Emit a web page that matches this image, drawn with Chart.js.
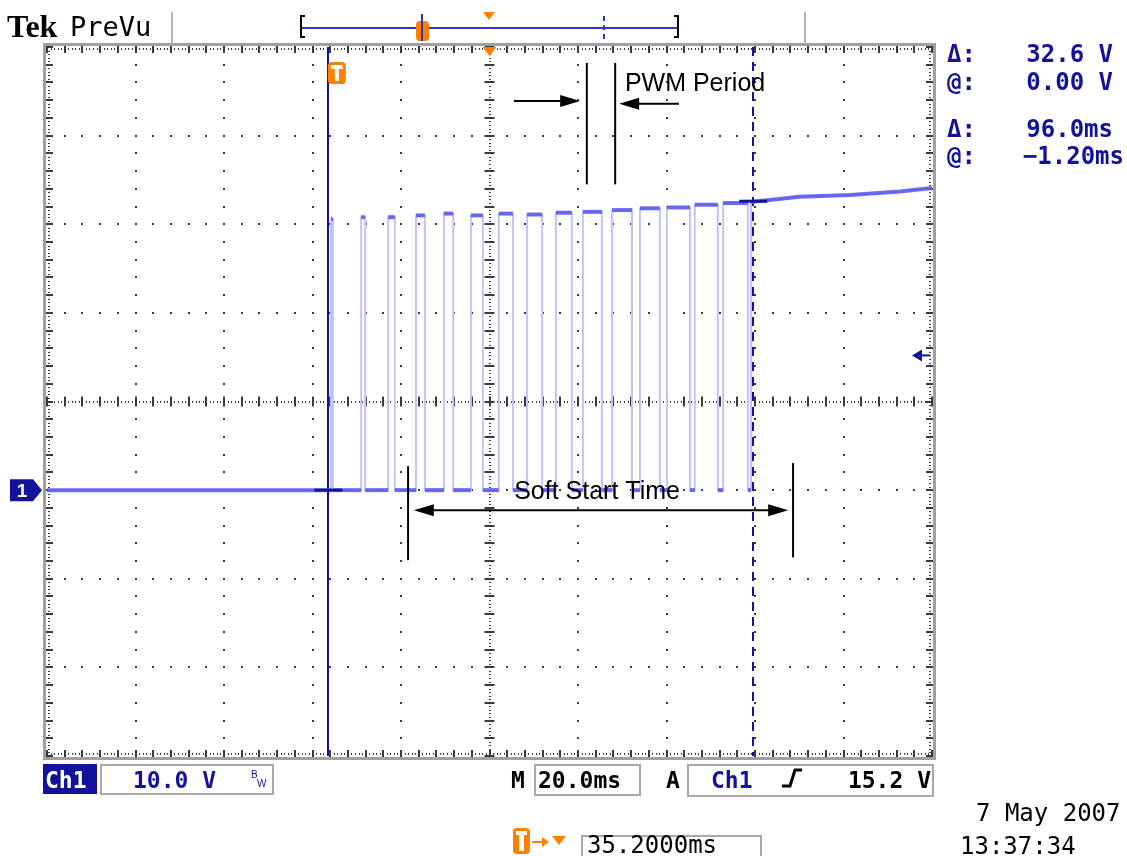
<!DOCTYPE html>
<html>
<head>
<meta charset="utf-8">
<title>Tek PreVu - Soft Start</title>
<script src="https://cdn.jsdelivr.net/npm/chart.js@4/dist/chart.umd.min.js"></script>
<style>
  html, body { margin: 0; padding: 0; background: #fff; }
  canvas { display: block; }
</style>
</head>
<body>
<canvas id="scope" width="1127" height="856"></canvas>
<script>
var xMin = 0, xMax = 200;   // ms (10 div)
var yMin = -30, yMax = 50;  // V (8 div), masse a -1 div
var xDiv = 20, yDiv = 10;

// impulsions PWM pendant le soft start (ms) et niveau haut (V)
var pulseStart = [64.2, 71.0, 77.1, 83.4, 89.7, 95.8, 102.1, 108.5, 115.0, 121.1, 127.7, 134.0, 140.1, 146.4, 152.8];
var pulseEnd   = [64.6, 71.9, 78.6, 85.4, 91.8, 98.5, 105.3, 111.9, 118.6, 125.4, 132.2, 138.5, 145.3, 151.6, 158.4];
var pulseHigh  = [30.6, 30.8, 30.8, 31.0, 31.2, 31.0, 31.2, 31.1, 31.3, 31.4, 31.6, 31.8, 31.9, 32.2, 32.4];
var lowLevel = 0;

// apres le soft start la sortie reste haute
var tailTime = [159.1, 170.0, 181.5, 192.8, 200.0];
var tailVolt = [32.5, 33.1, 33.3, 33.7, 34.1];

// curseurs et declenchement
var cursorTime = [63.6, 159.6];
var cursorVolt = [0, 32.6];
var trigLevel = 15.2;
var trigPoint = 65.5;

// reconstruction de la trace a partir des fronts
function buildTrace() {
  var pts = [{x: xMin, y: lowLevel}];
  for (var i = 0; i < pulseStart.length; i++) {
    pts.push({x: pulseStart[i], y: lowLevel});
    pts.push({x: pulseStart[i], y: pulseHigh[i]});
    pts.push({x: pulseEnd[i], y: pulseHigh[i]});
    pts.push({x: pulseEnd[i], y: lowLevel});
  }
  pts.push({x: tailTime[0], y: lowLevel});
  for (var j = 0; j < tailTime.length; j++) {
    pts.push({x: tailTime[j], y: tailVolt[j]});
  }
  return pts;
}

var navy = '#12129c';
var orange = '#ff8000';
var mono = '"DejaVu Sans Mono", monospace';
var sans = '"Liberation Sans", Arial, sans-serif';

function line(c, x1, y1, x2, y2) {
  c.beginPath(); c.moveTo(x1, y1); c.lineTo(x2, y2); c.stroke();
}
function dot(c, x, y) {
  c.fillRect(Math.round(x) - 1, Math.round(y) - 1, 2, 2);
}
function arrowHead(c, x, y, dir) {
  c.beginPath();
  c.moveTo(x, y);
  c.lineTo(x - dir * 20, y - 6);
  c.lineTo(x - dir * 20, y + 6);
  c.closePath();
  c.fill();
}

// graticule de l'oscillo
var scopeGrid = {
  id: 'scopeGrid',
  beforeDatasetsDraw: function(chart) {
    var c = chart.ctx, a = chart.chartArea, sx = chart.scales.x, sy = chart.scales.y;
    var k, m;
    c.save();
    c.fillStyle = '#3a3a3a';
    // lignes en pointilles (points tous les 1/5 div)
    for (k = 0; k <= 10; k++) {
      for (m = 0; m <= 40; m++) dot(c, sx.getPixelForValue(k * xDiv), sy.getPixelForValue(yMin + m * yDiv / 5));
    }
    for (k = 0; k <= 8; k++) {
      for (m = 0; m <= 50; m++) dot(c, sx.getPixelForValue(m * xDiv / 5), sy.getPixelForValue(yMin + k * yDiv));
    }
    // axes centraux : points serres + graduations
    var cx = sx.getPixelForValue(100), cy = sy.getPixelForValue(10);
    for (m = 0; m <= 200; m++) {
      c.fillRect(Math.round(cx) - 1, Math.round(sy.getPixelForValue(yMin + m * yDiv / 25)), 2, 1);
    }
    for (m = 0; m <= 250; m++) {
      c.fillRect(Math.round(sx.getPixelForValue(m * xDiv / 25)), Math.round(cy) - 1, 1, 2);
    }
    c.strokeStyle = '#3a3a3a';
    c.lineWidth = 2;
    for (m = 0; m <= 40; m++) {
      var yy = Math.round(sy.getPixelForValue(yMin + m * yDiv / 5));
      line(c, cx - 5, yy, cx + 5, yy);
    }
    for (m = 0; m <= 50; m++) {
      var xx = Math.round(sx.getPixelForValue(m * xDiv / 5));
      line(c, xx, cy - 5, xx, cy + 5);
    }
    // bord avec regle
    for (m = 0; m <= 250; m++) {
      var bx = Math.round(sx.getPixelForValue(m * xDiv / 25));
      c.fillRect(bx, a.top + 1, 1, 2);
      c.fillRect(bx, a.bottom - 3, 1, 2);
    }
    for (m = 0; m <= 200; m++) {
      var by = Math.round(sy.getPixelForValue(yMin + m * yDiv / 25));
      c.fillRect(a.left + 1, by, 2, 1);
      c.fillRect(a.right - 3, by, 2, 1);
    }
    for (m = 0; m <= 50; m++) {
      var tx = Math.round(sx.getPixelForValue(m * xDiv / 5));
      line(c, tx, a.top, tx, a.top + 6);
      line(c, tx, a.bottom, tx, a.bottom - 6);
    }
    for (m = 0; m <= 40; m++) {
      var ty = Math.round(sy.getPixelForValue(yMin + m * yDiv / 5));
      line(c, a.left, ty, a.left + 6, ty);
      line(c, a.right, ty, a.right - 6, ty);
    }
    c.strokeStyle = '#a0a0a0';
    c.lineWidth = 3;
    c.strokeRect(a.left - 2.5, a.top - 2.5, a.right - a.left + 5, a.bottom - a.top + 5);

    // curseurs verticaux
    c.strokeStyle = navy;
    c.lineWidth = 2;
    var x1 = Math.round(sx.getPixelForValue(cursorTime[0]));
    var x2 = Math.round(sx.getPixelForValue(cursorTime[1]));
    line(c, x1, a.top, x1, a.bottom);
    c.setLineDash([9, 6]);
    line(c, x2, a.top, x2, a.bottom);
    c.setLineDash([]);
    c.restore();
  },
  afterDatasetsDraw: function(chart) {
    var c = chart.ctx, sx = chart.scales.x, sy = chart.scales.y;
    c.save();
    c.strokeStyle = navy;
    c.lineWidth = 3;
    for (var n = 0; n < 2; n++) {
      var px = sx.getPixelForValue(cursorTime[n]), py = sy.getPixelForValue(cursorVolt[n]);
      line(c, px - 14, py, px + 14, py);
    }
    c.restore();
  }
};

// textes et reperes de l'ecran Tek
var scopeText = {
  id: 'scopeText',
  afterDraw: function(chart) {
    var c = chart.ctx, a = chart.chartArea, sx = chart.scales.x, sy = chart.scales.y;
    c.save();
    c.textBaseline = 'alphabetic';

    // entete
    c.fillStyle = '#000';
    c.font = 'bold 32px "Liberation Serif", serif';
    c.fillText('Tek', 7, 37);
    c.font = '27px ' + mono;
    c.fillText('PreVu', 70, 36);
    c.strokeStyle = '#b4b4b4';
    c.lineWidth = 2;
    line(c, 172, 12, 172, a.top - 3);
    line(c, 805, 12, 805, a.top - 3);

    // barre d'enregistrement
    c.strokeStyle = '#000';
    c.lineWidth = 2;
    line(c, 301, 15, 301, 38); line(c, 301, 16, 305, 16); line(c, 301, 37, 305, 37);
    line(c, 678, 15, 678, 38); line(c, 674, 16, 678, 16); line(c, 674, 37, 678, 37);
    c.strokeStyle = '#3434b4';
    line(c, 302, 28, 677, 28);
    c.setLineDash([5, 4]);
    line(c, 604, 16, 604, 40);
    c.setLineDash([]);
    c.fillStyle = orange;
    c.beginPath(); c.roundRect(416, 21, 13, 20, 4); c.fill();
    line(c, 422, 14, 422, 41);
    c.beginPath(); c.moveTo(483, 12); c.lineTo(495, 12); c.lineTo(489, 20); c.closePath(); c.fill();

    // repere de declenchement et point d'expansion
    var cx = sx.getPixelForValue(100);
    c.beginPath(); c.moveTo(cx - 7, a.top); c.lineTo(cx + 7, a.top); c.lineTo(cx, a.top + 9); c.closePath(); c.fill();
    var tp = sx.getPixelForValue(trigPoint);
    c.beginPath(); c.roundRect(tp - 9, a.top + 15, 18, 22, 4); c.fill();
    c.fillStyle = '#fff';
    c.fillRect(tp - 6, a.top + 18, 12, 4);
    c.fillRect(tp - 2, a.top + 18, 4, 16);

    // niveau de declenchement (droite)
    var ty = sy.getPixelForValue(trigLevel);
    c.fillStyle = navy;
    c.beginPath(); c.moveTo(a.right - 20, ty); c.lineTo(a.right - 10, ty - 6); c.lineTo(a.right - 10, ty + 6); c.closePath(); c.fill();
    c.strokeStyle = navy;
    line(c, a.right - 11, ty, a.right - 2, ty);

    // marqueur de masse Ch1
    var gy = sy.getPixelForValue(lowLevel);
    c.beginPath();
    c.moveTo(10, gy - 11); c.lineTo(33, gy - 11); c.lineTo(42, gy); c.lineTo(33, gy + 11); c.lineTo(10, gy + 11);
    c.closePath(); c.fill();
    c.fillStyle = '#fff';
    c.font = 'bold 19px ' + sans;
    c.textAlign = 'center';
    c.fillText('1', 22, gy + 7);

    // mesures des curseurs
    c.fillStyle = navy;
    c.font = 'bold 24px ' + mono;
    c.textAlign = 'left';
    c.fillText('\u0394:', 947, 62);
    c.fillText('@:', 947, 90);
    c.fillText('\u0394:', 947, 137);
    c.fillText('@:', 947, 164);
    c.textAlign = 'right';
    c.fillText('32.6 V', 1113, 62);
    c.fillText('0.00 V', 1113, 90);
    c.fillText('96.0ms', 1113, 137);
    c.fillText('\u22121.20ms', 1124, 164);

    // annotations
    c.fillStyle = '#000';
    c.strokeStyle = '#000';
    c.lineWidth = 2;
    var p1 = sx.getPixelForValue(122.0), p2 = sx.getPixelForValue(128.4);
    line(c, p1, sy.getPixelForValue(48.2), p1, sy.getPixelForValue(34.5));
    line(c, p2, sy.getPixelForValue(48.2), p2, sy.getPixelForValue(34.5));
    var ay1 = sy.getPixelForValue(43.9), ay2 = sy.getPixelForValue(43.6);
    line(c, sx.getPixelForValue(105.5), ay1, sx.getPixelForValue(120.5) - 15, ay1);
    arrowHead(c, sx.getPixelForValue(120.5), ay1, 1);
    line(c, sx.getPixelForValue(142.8), ay2, sx.getPixelForValue(129.3) + 15, ay2);
    arrowHead(c, sx.getPixelForValue(129.3), ay2, -1);
    c.font = '25px ' + sans;
    c.textAlign = 'left';
    c.fillText('PWM Period', sx.getPixelForValue(130.6), sy.getPixelForValue(45.0));

    var s1 = sx.getPixelForValue(81.6), s2 = sx.getPixelForValue(168.6);
    line(c, s1, sy.getPixelForValue(2.7), s1, sy.getPixelForValue(-7.9));
    line(c, s2, sy.getPixelForValue(3.05), s2, sy.getPixelForValue(-7.6));
    var sy0 = sy.getPixelForValue(-2.26);
    var sa = sx.getPixelForValue(82.9), sb = sx.getPixelForValue(167.5);
    line(c, sa + 15, sy0, sb - 15, sy0);
    arrowHead(c, sa, sy0, -1);
    arrowHead(c, sb, sy0, 1);
    c.textAlign = 'center';
    c.fillText('Soft Start Time', sx.getPixelForValue(124.3), sy.getPixelForValue(-1.0));

    // barre d'etat
    c.textAlign = 'left';
    c.font = 'bold 23px ' + mono;
    c.fillStyle = navy;
    c.fillRect(43, 764, 54, 30);
    c.fillStyle = '#fff';
    c.fillText('Ch1', 45, 788);
    c.strokeStyle = '#a8a8a8';
    c.lineWidth = 2;
    c.strokeRect(101, 765, 172, 29);
    c.strokeRect(535, 765, 105, 30);
    c.strokeRect(688, 765, 245, 31);
    c.strokeRect(582, 836, 179, 30);
    c.fillStyle = navy;
    c.fillText('10.0 V', 133, 788);
    c.fillText('Ch1', 711, 788);
    c.font = '10px ' + sans;
    c.fillText('B', 251, 778);
    c.fillText('W', 257, 787);
    c.font = 'bold 23px ' + mono;
    c.fillStyle = '#000';
    c.fillText('M', 511, 788);
    c.fillText('20.0ms', 538, 788);
    c.fillText('A', 666, 788);
    c.textAlign = 'right';
    c.fillText('15.2 V', 931, 788);
    c.strokeStyle = '#000';
    c.lineWidth = 3;
    c.beginPath(); c.moveTo(782, 786); c.lineTo(790, 786); c.lineTo(795, 770); c.lineTo(802, 770); c.stroke();

    // position horizontale
    c.fillStyle = orange;
    c.beginPath(); c.roundRect(513, 828, 17, 26, 4); c.fill();
    c.fillStyle = '#fff';
    c.fillRect(516, 831, 11, 4);
    c.fillRect(519, 831, 5, 20);
    c.fillStyle = orange;
    c.strokeStyle = orange;
    c.lineWidth = 2;
    line(c, 532, 842, 544, 842);
    c.beginPath(); c.moveTo(549, 842); c.lineTo(542, 837); c.lineTo(542, 847); c.closePath(); c.fill();
    c.beginPath(); c.moveTo(552, 836); c.lineTo(566, 836); c.lineTo(559, 845); c.closePath(); c.fill();
    c.fillStyle = '#000';
    c.textAlign = 'left';
    c.font = '24px ' + mono;
    c.fillText('35.2000ms', 587, 853);

    // date / heure
    c.fillText('7 May 2007', 976, 821);
    c.fillText('13:37:34', 960, 854);
    c.restore();
  }
};

var ctx = document.getElementById('scope').getContext('2d');
var scopeChart = new Chart(ctx, {
  type: 'line',
  data: {
    datasets: [{
      // paliers : trait epais, les fronts verticaux sont masques
      data: buildTrace(),
      order: 1,
      borderWidth: 4,
      pointRadius: 0,
      tension: 0,
      borderColor: 'rgba(84, 84, 238, 0.85)',
      segment: {
        borderColor: function(s) {
          return s.p0.parsed.x === s.p1.parsed.x ? 'rgba(0,0,0,0)' : 'rgba(84, 84, 238, 0.85)';
        }
      }
    }, {
      // fronts : trait fin et pale
      data: buildTrace(),
      order: 2,
      borderColor: '#c2c2ff',
      borderWidth: 2,
      pointRadius: 0,
      tension: 0
    }]
  },
  options: {
    responsive: false,
    animation: false,
    events: [],
    layout: { padding: { left: 47, top: 47, right: 195, bottom: 100 } },
    scales: {
      x: { type: 'linear', min: xMin, max: xMax, display: false },
      y: { type: 'linear', min: yMin, max: yMax, display: false }
    },
    plugins: {
      legend: { display: false },
      tooltip: { enabled: false }
    }
  },
  plugins: [scopeGrid, scopeText]
});
</script>
</body>
</html>
